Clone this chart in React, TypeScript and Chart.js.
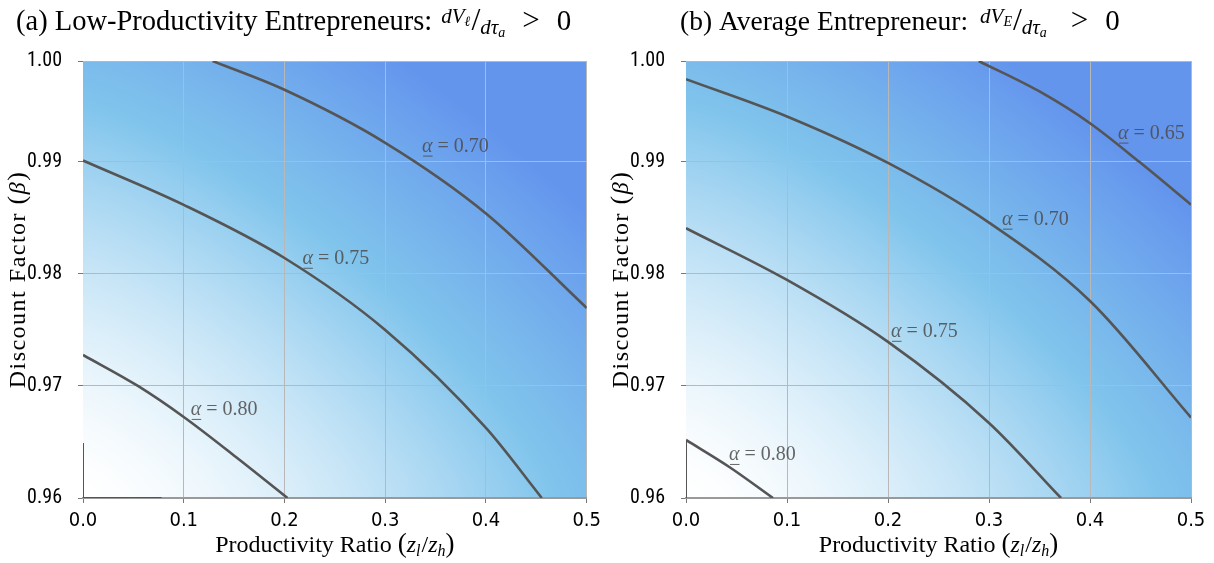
import React, { useEffect, useRef } from 'react';
import { Chart, registerables } from 'chart.js';
Chart.register(...registerables);

// ---------- axes ----------
const xTickValues = [0, 0.1, 0.2, 0.3, 0.4, 0.5];
const yTickValues = [0.96, 0.97, 0.98, 0.99, 0.999];
const xMin = 0;
const xMax = 0.5;
const yMin = 0.96;
const yMax = 0.999;

// ---------- panel (a): low-productivity entrepreneurs ----------
const a70x = [0.1287, 0.2, 0.3, 0.4, 0.5];
const a70y = [0.999, 0.99643, 0.9917, 0.9854, 0.97696];
const a75x = [0, 0.1, 0.2, 0.3, 0.4, 0.4554];
const a75y = [0.99012, 0.98616, 0.98142, 0.975, 0.96625, 0.96];
const a80x = [0, 0.0545, 0.1, 0.1518, 0.203];
const a80y = [0.97277, 0.97, 0.96723, 0.96366, 0.96];
const aEdgeX = [0, 0, 0.078];
const aEdgeY = [0.9649, 0.96, 0.96];
const aLabelText = ['0.70', '0.75', '0.80'];
const aLabelX = [0.3366, 0.2178, 0.1069];
const aLabelY = [0.99154, 0.98153, 0.96804];

// ---------- panel (b): average entrepreneur ----------
const b65x = [0.2898, 0.35, 0.4, 0.4488, 0.5];
const b65y = [0.999, 0.99628, 0.99345, 0.99, 0.98618];
const b70x = [0, 0.1, 0.2, 0.3, 0.4, 0.5];
const b70y = [0.99738, 0.99405, 0.9899, 0.98458, 0.97758, 0.96718];
const b75x = [0, 0.1, 0.2, 0.3, 0.3713];
const b75y = [0.98408, 0.97946, 0.97393, 0.9667, 0.96];
const b80x = [0, 0.0429, 0.0861];
const b80y = [0.96518, 0.96277, 0.96];
const bEdgeX = [0, 0];
const bEdgeY = [0.96518, 0.96];
const bLabelText = ['0.65', '0.70', '0.75', '0.80'];
const bLabelX = [0.4277, 0.3129, 0.203, 0.0426];
const bLabelY = [0.9927, 0.98502, 0.97501, 0.96402];

const SERIF = "'Liberation Serif', 'DejaVu Serif', serif";
const NARROW = "'Liberation Sans Narrow', 'Noto Sans Condensed', 'Roboto Condensed', 'DejaVu Sans Condensed', sans-serif";
const LINE = '#555555';

type Seg = { t: string; font: string; dy?: number; dx?: number };

function drawRich(ctx: CanvasRenderingContext2D, x: number, y: number, segs: Seg[], align: 'left' | 'center') {
  let w = 0;
  for (const s of segs) {
    ctx.font = s.font;
    w += ctx.measureText(s.t).width + (s.dx || 0);
  }
  let cx = align === 'center' ? x - w / 2 : x;
  ctx.textAlign = 'left';
  ctx.textBaseline = 'alphabetic';
  for (const s of segs) {
    ctx.font = s.font;
    cx += s.dx || 0;
    ctx.fillText(s.t, cx, y + (s.dy || 0));
    cx += ctx.measureText(s.t).width;
  }
}

function pts(xs: number[], ys: number[]) {
  return xs.map((x, i) => ({ x, y: ys[i] }));
}

// colour field for the background shading
function shade(u: number, v: number): [number, number, number] {
  const s = Math.pow(Math.pow(u, 1.3) + Math.pow(1.04 * v, 1.3), 1 / 1.3);
  const t = 1.1 * Math.pow(s, 1.5);
  const W = [255, 255, 255];
  const L = [128, 196, 236];
  const C = [100, 149, 237];
  let c: number[];
  if (t <= 1) {
    c = W.map((w, i) => w + (L[i] - w) * t);
  } else {
    const k = Math.min(1, (t - 1) / 0.9);
    c = L.map((l, i) => l + (C[i] - l) * k);
  }
  return [c[0], c[1], c[2]];
}

const heatPlugin = {
  id: 'heat',
  beforeDraw(chart: any) {
    const { ctx, chartArea: a } = chart;
    const w = Math.round(a.right - a.left);
    const h = Math.round(a.bottom - a.top);
    const off = document.createElement('canvas');
    off.width = w;
    off.height = h;
    const octx = off.getContext('2d')!;
    const img = octx.createImageData(w, h);
    for (let j = 0; j < h; j++) {
      for (let i = 0; i < w; i++) {
        const [r, g, b] = shade(i / (w - 1), 1 - j / (h - 1));
        const p = (j * w + i) * 4;
        img.data[p] = r;
        img.data[p + 1] = g;
        img.data[p + 2] = b;
        img.data[p + 3] = 255;
      }
    }
    octx.putImageData(img, 0, 0);
    ctx.drawImage(off, a.left, a.top);
  },
};

type PanelSpec = {
  titleSegs: Seg[];
  titleX: number;
  yTitleX: number;
  yAxisWidth: number;
  padRight: number;
  lines: { xs: number[]; ys: number[]; edge?: boolean }[];
  labelText: string[];
  labelX: number[];
  labelY: number[];
};

const mathSegs = (sub: string, lead: number, gap: number): Seg[] => [
  { t: 'dV', font: `italic 21px ${SERIF}`, dy: -7, dx: lead },
  { t: sub, font: `italic 14px ${SERIF}`, dy: -4 },
  { t: '/', font: `32px ${SERIF}`, dx: 1 },
  { t: 'd\u03C4', font: `italic 21px ${SERIF}`, dy: 4 },
  { t: 'a', font: `italic 14px ${SERIF}`, dy: 7 },
  { t: '>', font: `31px ${SERIF}`, dx: gap },
  { t: '0', font: `29px ${SERIF}`, dx: 17 },
];

const panelA: PanelSpec = {
  titleSegs: [{ t: '(a) Low-Productivity Entrepreneurs:', font: `28.5px ${SERIF}` }, ...mathSegs('\u2113', 9, 17)],
  titleX: 16,
  yTitleX: 25,
  yAxisWidth: 83,
  padRight: 19,
  lines: [
    { xs: a70x, ys: a70y },
    { xs: a75x, ys: a75y },
    { xs: a80x, ys: a80y },
    { xs: aEdgeX, ys: aEdgeY, edge: true },
  ],
  labelText: aLabelText,
  labelX: aLabelX,
  labelY: aLabelY,
};

const panelB: PanelSpec = {
  titleSegs: [{ t: '(b) Average Entrepreneur:', font: `27.5px ${SERIF}` }, ...mathSegs('E', 12, 24)],
  titleX: 73,
  yTitleX: 21,
  yAxisWidth: 79,
  padRight: 23,
  lines: [
    { xs: b65x, ys: b65y },
    { xs: b70x, ys: b70y },
    { xs: b75x, ys: b75y },
    { xs: b80x, ys: b80y },
    { xs: bEdgeX, ys: bEdgeY, edge: true },
  ],
  labelText: bLabelText,
  labelX: bLabelX,
  labelY: bLabelY,
};

function makeChart(canvas: HTMLCanvasElement, spec: PanelSpec) {
  const textPlugin = {
    id: 'texts',
    afterDatasetsDraw(chart: any) {
      const { ctx, scales } = chart;
      ctx.save();
      ctx.fillStyle = 'rgba(75,75,75,0.85)';
      ctx.strokeStyle = 'rgba(75,75,75,0.85)';
      spec.labelText.forEach((txt, i) => {
        const px = scales.x.getPixelForValue(spec.labelX[i]);
        const py = scales.y.getPixelForValue(spec.labelY[i]);
        const base = py + 7;
        ctx.font = `italic 20px ${SERIF}`;
        const aw = ctx.measureText('\u03B1').width;
        drawRich(ctx, px, base, [
          { t: '\u03B1', font: `italic 20px ${SERIF}` },
          { t: ' = ' + txt, font: `20px ${SERIF}` },
        ], 'left');
        ctx.lineWidth = 1;
        ctx.beginPath();
        ctx.moveTo(px + 1, base + 4.5);
        ctx.lineTo(px + aw, base + 4.5);
        ctx.stroke();
      });
      ctx.restore();
    },
    afterDraw(chart: any) {
      const { ctx, chartArea: a } = chart;
      ctx.save();
      ctx.fillStyle = '#000';
      drawRich(ctx, spec.titleX, 30, spec.titleSegs, 'left');
      const cx = (a.left + a.right) / 2;
      drawRich(ctx, cx, 552, [
        { t: 'Productivity Ratio ', font: `24px ${SERIF}` },
        { t: '(', font: `27px ${SERIF}` },
        { t: 'z', font: `italic 24px ${SERIF}` },
        { t: 'l', font: `italic 16px ${SERIF}`, dy: 4 },
        { t: '/', font: `24px ${SERIF}`, dx: 1 },
        { t: 'z', font: `italic 24px ${SERIF}` },
        { t: 'h', font: `italic 16px ${SERIF}`, dy: 4 },
        { t: ')', font: `27px ${SERIF}` },
      ], 'center');
      ctx.restore();
      ctx.save();
      ctx.fillStyle = '#000';
      const cy = (a.top + a.bottom) / 2;
      ctx.translate(spec.yTitleX, cy);
      ctx.rotate(-Math.PI / 2);
      (ctx as any).letterSpacing = '1.5px';
      drawRich(ctx, 0, 0, [
        { t: 'Discount Factor ', font: `24px ${SERIF}` },
        { t: '(', font: `26px ${SERIF}` },
        { t: '\u03B2', font: `italic 24px ${SERIF}` },
        { t: ')', font: `26px ${SERIF}` },
      ], 'center');
      (ctx as any).letterSpacing = '0px';
      ctx.restore();
    },
  };

  return new Chart(canvas, {
    type: 'scatter',
    data: {
      datasets: spec.lines.map((l) => ({
        data: pts(l.xs, l.ys),
        showLine: true,
        pointRadius: 0,
        borderColor: LINE,
        borderWidth: l.edge ? 2 : 2.6,
        cubicInterpolationMode: l.edge ? 'default' : 'monotone',
        tension: 0,
        fill: false,
      })),
    },
    options: {
      animation: false,
      responsive: false,
      devicePixelRatio: 1,
      events: [],
      layout: { padding: { left: 0, right: spec.padRight, top: 61, bottom: 0 } },
      plugins: { legend: { display: false }, tooltip: { enabled: false }, title: { display: false } },
      scales: {
        x: {
          type: 'linear',
          min: xMin,
          max: xMax,
          afterBuildTicks: (s: any) => {
            s.ticks = xTickValues.map((v) => ({ value: v }));
          },
          afterFit: (s: any) => {
            s.height = 65;
          },
          ticks: {
            callback: (v: any) => Number(v).toFixed(1),
            color: '#000',
            padding: 6,
            maxRotation: 0,
            font: { family: "'DejaVu Sans Condensed', 'DejaVu Sans', sans-serif", size: 20 },
          },
          grid: {
            color: (c: any) => (c.tick && c.tick.value === 0 ? 'rgba(0,0,0,0)' : '#b8b8b8'),
            lineWidth: 1,
            tickColor: '#777',
            tickLength: 5,
          },
          border: { display: true, color: '#9a9a9a', width: 2 },
        },
        y: {
          type: 'linear',
          min: yMin,
          max: yMax,
          afterBuildTicks: (s: any) => {
            s.ticks = yTickValues.map((v) => ({ value: v }));
          },
          afterFit: (s: any) => {
            s.width = spec.yAxisWidth;
          },
          ticks: {
            callback: (v: any) => Number(v).toFixed(2),
            color: '#000',
            padding: 16,
            font: { family: NARROW, size: 20 },
          },
          grid: { color: '#b8b8b8', lineWidth: 1, tickColor: '#777', tickLength: 5 },
          border: { display: false },
        },
      },
    } as any,
    plugins: [heatPlugin, textPlugin],
  });
}

function Panel({ spec, left }: { spec: PanelSpec; left: number }) {
  const ref = useRef<HTMLCanvasElement>(null);
  useEffect(() => {
    const chart = makeChart(ref.current!, spec);
    return () => chart.destroy();
  }, [spec]);
  return (
    <canvas
      ref={ref}
      width={607}
      height={563}
      style={{ position: 'absolute', left, top: 0, width: 607, height: 563, display: 'block' }}
    />
  );
}

export default function App() {
  return (
    <div style={{ position: 'absolute', left: 0, top: 0, width: 1214, height: 563, background: '#fff' }}>
      <Panel spec={panelA} left={0} />
      <Panel spec={panelB} left={607} />
    </div>
  );
}
